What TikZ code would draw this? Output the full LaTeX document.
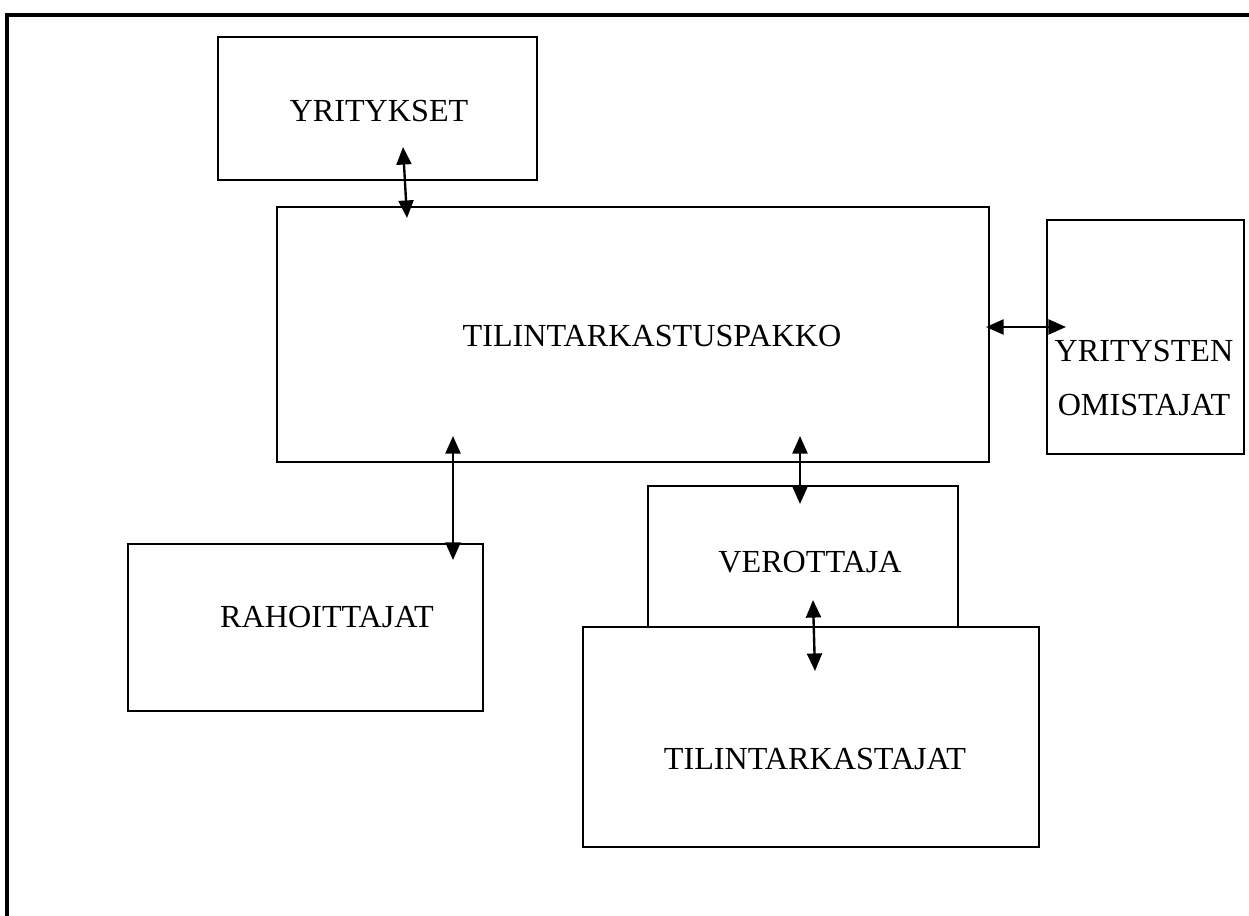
\documentclass[tikz,border=0pt]{standalone}
\usepackage{fontspec}
\setmainfont{Liberation Serif}
\usetikzlibrary{arrows.meta}

\begin{document}
\begin{tikzpicture}[x=0.02cm, y=-0.02cm,
        box/.style={rectangle, draw, line width=1.35pt, anchor=north west, inner sep=0pt, outer sep=0pt},
        lbl/.style={inner sep=0pt, font=\fontsize{18.3}{30.6}\selectfont, align=center},
        link/.style={line width=1.35pt, {Triangle[length=10pt,width=8.5pt]}-{Triangle[length=10pt,width=8.5pt]}}]
        \def\u{0.02}
        \useasboundingbox (0,0) rectangle (1249,916);

        % frame, only top and left
        \draw[line width=2.2pt] (7,916) -- (7,15) -- (1249,15);

        % boxes
        \node(yritykset) [box, minimum width=319*\u cm, minimum height=143*\u cm] at (218,37) {};
        \node(pakko) [box, minimum width=712*\u cm, minimum height=255*\u cm] at (277,207) {};
        \node(omistajat) [box, minimum width=197*\u cm, minimum height=234*\u cm] at (1047,220) {};
        \node(rahoittajat) [box, minimum width=355*\u cm, minimum height=167*\u cm] at (128,544) {};
        \node(verottaja) [box, minimum width=310*\u cm, minimum height=141*\u cm] at (648,486) {};
        \node(tilintarkastajat) [box, minimum width=456*\u cm, minimum height=220*\u cm] at (583,627) {};

        % texts
        \node(yritykset-t) [lbl] at (379,111) {YRITYKSET};
        \node(pakko-t) [lbl] at (652,336) {TILINTARKASTUSPAKKO};
        \node(omistajat-t) [lbl] at (1144,378) {YRITYSTEN\\OMISTAJAT};
        \node(rahoittajat-t) [lbl] at (327,617) {RAHOITTAJAT};
        \node(verottaja-t) [lbl] at (810,562) {VEROTTAJA};
        \node(tilintarkastajat-t) [lbl] at (815,759) {TILINTARKASTAJAT};

        % arrow ends
        \coordinate (y1) at (403,147);
        \coordinate (y2) at (407,218);
        \coordinate (o1) at (986,327);
        \coordinate (o2) at (1066,327);
        \coordinate (r1) at (453,436);
        \coordinate (r2) at (453,560);
        \coordinate (v1) at (800,436);
        \coordinate (v2) at (800,504);
        \coordinate (t1) at (813,600);
        \coordinate (t2) at (815,671);

        \draw[link] (y1) -- (y2);
        \draw[link] (o1) -- (o2);
        \draw[link] (r1) -- (r2);
        \draw[link] (v1) -- (v2);
        \draw[link] (t1) -- (t2);
    \end{tikzpicture}
\end{document}
